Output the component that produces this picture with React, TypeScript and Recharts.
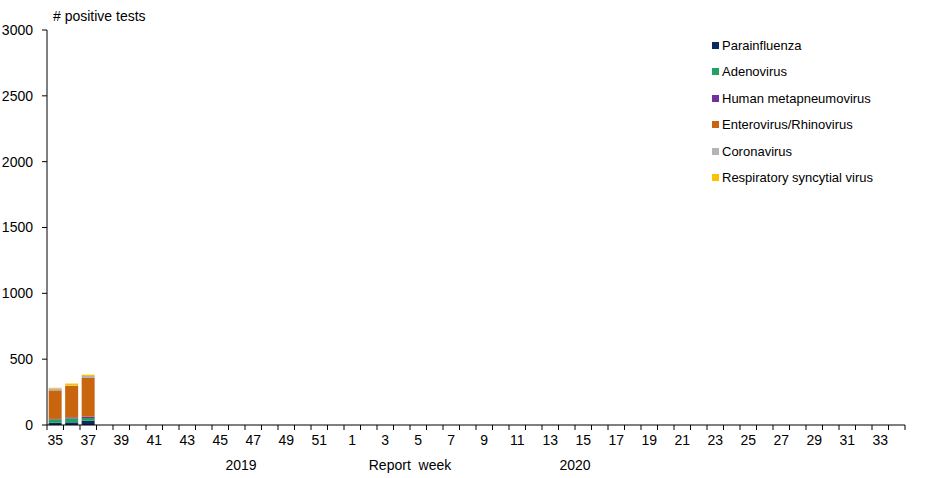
import React from "react";
import { BarChart, Bar, XAxis, YAxis, Legend } from "recharts";

const weeks = [
  "35", "36", "37", "38", "39", "40", "41", "42", "43", "44", "45", "46", "47", "48", "49", "50", "51", "52",
  "1", "2", "3", "4", "5", "6", "7", "8", "9", "10", "11", "12", "13", "14", "15", "16", "17", "18", "19",
  "20", "21", "22", "23", "24", "25", "26", "27", "28", "29", "30", "31", "32", "33", "34",
];

const parainfluenza = [17, 20, 33];
const adenovirus = [26, 30, 20];
const metapneumovirus = [3, 8, 10];
const enteroRhino = [217, 238, 294];
const coronavirus = [15, 4, 15];
const rsv = [5, 15, 10];

const yTicks = [0, 500, 1000, 1500, 2000, 2500, 3000];

const yearLabels: { [k: number]: string } = { 12: "2019", 22: "Report  week", 32: "2020" };

const series = [
  { key: "parainfluenza", name: "Parainfluenza", color: "#0c2a5b", values: parainfluenza },
  { key: "adenovirus", name: "Adenovirus", color: "#1fa262", values: adenovirus },
  { key: "metapneumovirus", name: "Human metapneumovirus", color: "#7030a0", values: metapneumovirus },
  { key: "enteroRhino", name: "Enterovirus/Rhinovirus", color: "#c9650f", values: enteroRhino },
  { key: "coronavirus", name: "Coronavirus", color: "#b4b4b4", values: coronavirus },
  { key: "rsv", name: "Respiratory syncytial virus", color: "#ffc000", values: rsv },
];

const data = weeks.map((w, i) => {
  const row: any = { week: w };
  series.forEach((s) => {
    row[s.key] = i < s.values.length ? s.values[i] : null;
  });
  return row;
});

const FONT = "'Liberation Sans', Arial, sans-serif";

const WeekTick = (props: any) => {
  const { x, y, payload } = props;
  const idx = payload?.index ?? props.index ?? 0;
  const off = payload?.offset ?? 8.25;
  const last = idx === weeks.length - 1;
  const extra = yearLabels[idx];
  return (
    <g>
      <line x1={x - off} y1={y} x2={x - off} y2={y + 5} stroke="#000" strokeWidth={1} />
      {last && <line x1={x + off} y1={y} x2={x + off} y2={y + 5} stroke="#000" strokeWidth={1} />}
      {idx % 2 === 0 && (
        <text x={x} y={y + 20} textAnchor="middle" fontSize={14} fill="#000" fontFamily={FONT}>
          {payload.value}
        </text>
      )}
      {extra && (
        <text
          x={x - off + (idx === 12 ? -4 : 0)}
          y={y + 45}
          textAnchor="middle"
          fontSize={14}
          fill="#000"
          fontFamily={FONT}
          style={{ whiteSpace: "pre" }}
        >
          {extra}
        </text>
      )}
    </g>
  );
};

const renderLegend = () => (
  <div style={{ fontFamily: FONT, fontSize: 13, color: "#000" }}>
    {series.map((s) => (
      <div key={s.key} style={{ height: 26.5, display: "flex", alignItems: "center" }}>
        <span style={{ display: "inline-block", width: 7, height: 7, background: s.color, marginRight: 3 }} />
        <span>{s.name}</span>
      </div>
    ))}
  </div>
);

export default function App() {
  return (
    <div style={{ position: "absolute", left: 0, top: 0, width: 933, height: 478, background: "#fff" }}>
      <div
        style={{
          position: "absolute",
          left: 53,
          top: 8,
          fontFamily: FONT,
          fontSize: 14,
          color: "#000",
          zIndex: 2,
        }}
      >
        # positive tests
      </div>
      <BarChart
        width={933}
        height={478}
        data={data}
        margin={{ top: 30, right: 28, bottom: 0, left: 0 }}
        barCategoryGap="10%"
      >
        <XAxis
          dataKey="week"
          interval={0}
          height={53}
          tickLine={false}
          tickSize={0}
          tickMargin={0}
          axisLine={{ stroke: "#000" }}
          tick={<WeekTick />}
        />
        <YAxis
          width={47}
          domain={[0, 3000]}
          ticks={yTicks}
          tickSize={5}
          tickMargin={9}
          axisLine={{ stroke: "#000" }}
          tickLine={{ stroke: "#000" }}
          tick={{ fontSize: 14, fill: "#000", fontFamily: FONT }}
          allowDataOverflow
        />
        <Legend
          content={renderLegend}
          layout="vertical"
          verticalAlign="middle"
          align="center"
          wrapperStyle={{ top: 32, left: 712, width: 210 }}
        />
        {series.map((s) => (
          <Bar
            key={s.key}
            dataKey={s.key}
            name={s.name}
            stackId="a"
            fill={s.color}
            isAnimationActive={false}
          />
        ))}
      </BarChart>
    </div>
  );
}
